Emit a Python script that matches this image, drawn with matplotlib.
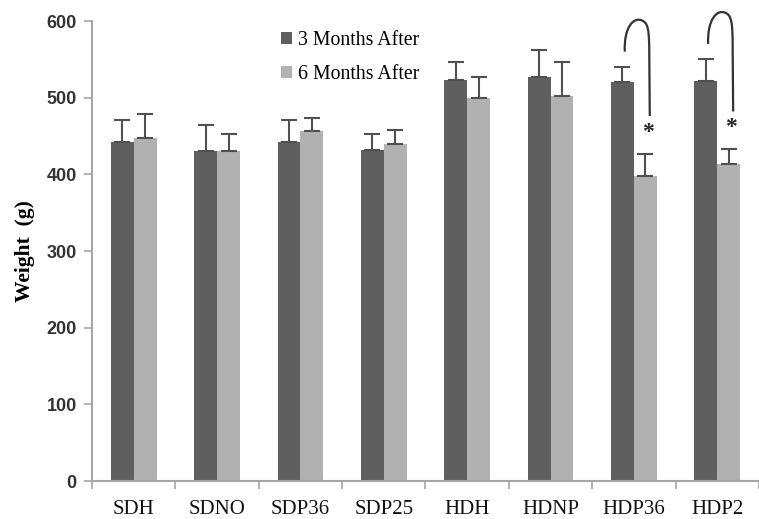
import matplotlib
matplotlib.use("Agg")
import matplotlib.pyplot as plt
import numpy as np
from matplotlib.path import Path
from matplotlib.patches import PathPatch

categories = ["SDH", "SDNO", "SDP36", "SDP25", "HDH", "HDNP", "HDP36", "HDP2"]
months3 = [442, 431, 442, 432, 523, 527, 520, 522]
months3_err = [29, 34, 29, 21, 23, 35, 20, 28]
months6 = [448, 431, 456, 440, 500, 502, 398, 413]
months6_err = [31, 22, 17, 18, 27, 44, 29, 20]
series_names = ["3 Months After", "6 Months After"]
significant = ["HDP36", "HDP2"]

dark = "#5f5f5f"
light = "#b1b1b1"
axis_col = "#a6a6a6"

fig = plt.figure(figsize=(7.59, 5.19), dpi=100)
ax = fig.add_axes([0.1212, 0.0732, 0.8788, 0.8863])

x = np.arange(len(categories))
w = 0.275
ax.bar(x - w / 2, months3, w, color=dark, label=series_names[0], zorder=2)
ax.bar(x + w / 2, months6, w, color=light, label=series_names[1], zorder=2)
ax.errorbar(x - w / 2, months3, yerr=[np.zeros(len(x)), months3_err], fmt="none",
            ecolor="#505050", elinewidth=1.5, capsize=6, capthick=1.5, zorder=3)
ax.errorbar(x + w / 2, months6, yerr=[np.zeros(len(x)), months6_err], fmt="none",
            ecolor="#505050", elinewidth=1.5, capsize=6, capthick=1.5, zorder=3)

# significance hooks and asterisks
for name in significant:
    i = categories.index(name)
    top3 = months3[i] + months3_err[i]
    top6 = months6[i] + months6_err[i]
    xs, xp, xe = i - 0.11, i + 0.09, i + 0.19
    ys, pk, ye = top3 + 20, top3 + 61, top6 + 49
    verts = [(xs, ys),
             (xs - 0.012, pk - 8), (xp - 0.09, pk + 4), (xp, pk),
             (xp + 0.08, pk - 3), (xe - 0.006, pk - 12), (xe - 0.006, pk - 45),
             (xe, ye)]
    codes = [Path.MOVETO,
             Path.CURVE4, Path.CURVE4, Path.CURVE4,
             Path.CURVE4, Path.CURVE4, Path.CURVE4,
             Path.LINETO]
    ax.add_patch(PathPatch(Path(verts, codes), fill=False, edgecolor="#333333",
                           lw=1.6, zorder=4, clip_on=False))
    ax.text(i + w / 2 + 0.03, top6 + 14, "*", ha="center", va="bottom",
            fontsize=17, fontweight="bold", family="Liberation Serif",
            color="#222222")

ax.set_xlim(-0.5, len(categories) - 0.5)
ax.set_ylim(0, 600)
ax.set_yticks(range(0, 601, 100))
ax.set_xticks(x)
ax.set_xticklabels(categories, family="Liberation Serif", fontsize=15, color="#111111")
ax.set_xticks(np.arange(-0.5, len(categories) + 0.5, 1), minor=True)
ax.tick_params(axis="x", which="major", length=0, pad=13.5)
ax.tick_params(axis="x", which="minor", length=6, color=axis_col, width=1.2, direction="out")
ax.tick_params(axis="y", length=6, color=axis_col, width=1.2, labelsize=13,
               labelcolor="#333333", pad=5)
for lab in ax.get_yticklabels():
    lab.set_family("Liberation Sans")
    lab.set_fontweight("bold")

for s in ["top", "right"]:
    ax.spines[s].set_visible(False)
for s in ["left", "bottom"]:
    ax.spines[s].set_color(axis_col)
    ax.spines[s].set_linewidth(1.5)

ax.set_ylabel("Weight  (g)", family="Liberation Serif", fontweight="bold",
              fontsize=15.5, labelpad=8)

leg = ax.legend(loc="upper left", bbox_to_anchor=(0.256, 1.017), frameon=False,
                handlelength=0.55, handleheight=0.55, handletextpad=0.3,
                labelspacing=0.75,
                prop={"family": "Liberation Serif", "size": 14.3})

fig.savefig("out.png", dpi=100)
